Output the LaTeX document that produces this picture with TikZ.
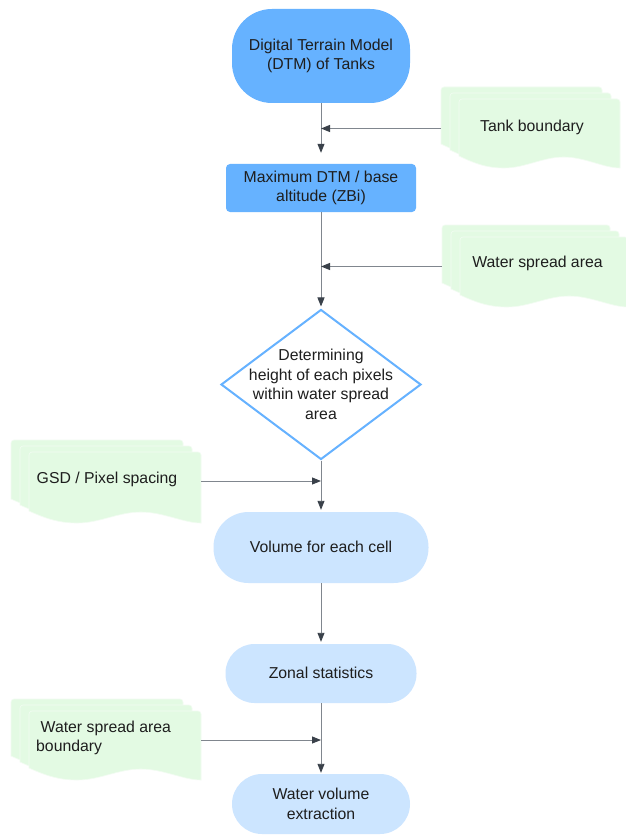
\documentclass[tikz,border=0pt]{standalone}
\usepackage{fontspec}
\setmainfont{Liberation Sans}
\usetikzlibrary{shapes.geometric,arrows.meta}
\definecolor{dblue}{HTML}{66B2FF}
\definecolor{lblue}{HTML}{CCE5FF}
\definecolor{mint}{HTML}{E3FAE3}
\definecolor{mintedge}{HTML}{F2FCF2}
\definecolor{linec}{HTML}{80868E}
\definecolor{tipc}{HTML}{3A414A}
\definecolor{txt}{HTML}{1E1E1E}
\newcommand\docsheet[4]{%
  \filldraw[fill=mint, draw=mintedge, line width=0.6pt]
    ({#1},{#2+#4-12}) [rounded corners=3pt] -- ({#1},{#2}) -- ({#1+#3},{#2})
    [sharp corners] -- ({#1+#3},{#2+#4})
    .. controls ({#1+0.9*#3},{#2+#4}) and ({#1+0.78*#3},{#2+#4-11}) .. ({#1+0.65*#3},{#2+#4-11})
    .. controls ({#1+0.52*#3},{#2+#4-11}) and ({#1+0.41*#3},{#2+#4}) .. ({#1+0.28*#3},{#2+#4})
    .. controls ({#1+0.16*#3},{#2+#4}) and ({#1+0.08*#3},{#2+#4-6}) .. ({#1},{#2+#4-12}) -- cycle;}
\newcommand\docstack[4]{%
  \docsheet{#1-18}{#2-12}{#3}{#4}%
  \docsheet{#1-9}{#2-6}{#3}{#4}%
  \docsheet{#1}{#2}{#3}{#4}}
\tikzset{
  lbl/.style={font=\fontsize{15.8pt}{19.5pt}\selectfont, text=txt, align=center, inner sep=0pt},
  term/.style={lbl, rectangle, draw=none},
  flow/.style={draw=linec, line width=0.9pt, -{Triangle[length=9pt,width=7pt,color=tipc]}},
}
\begin{document}
\begin{tikzpicture}[x=1pt,y=-1pt]
\useasboundingbox[fill=white] (0,0) rectangle (625,837);

% input stacks
\docstack{459}{99}{161}{69}
\docstack{460}{237}{168}{70}
\docstack{29}{452}{172}{71}
\docstack{29}{711}{172}{69}

\node[lbl] (tb) at (532,127) {Tank boundary};
\node[lbl] (wsa) at (537.5,263.5) {Water spread area};
\node[lbl] (gsd) at (107,479.5) {GSD / Pixel spacing};
\node[lbl, align=left, anchor=west] (wsab) at (36,738) {\hspace{4.5pt}Water spread area\\boundary};

\coordinate (tbin) at (441,128.5);
\coordinate (wsain) at (442,266.5);
\coordinate (gsdout) at (201,481);
\coordinate (wsabout) at (201,740);

% main column
\node[term, fill=dblue, minimum width=178pt, minimum height=94pt, rounded corners=40pt] (dtm) at (321,56) {Digital Terrain Model\\(DTM) of Tanks};
\node[term, fill=dblue, minimum width=190pt, minimum height=48pt, rounded corners=4pt] (max) at (321,188) {Maximum DTM / base\\altitude (ZBi)};
\node[diamond, draw=dblue, line width=2pt, fill=white, minimum width=200pt, minimum height=150pt, inner sep=0pt] (dia) at (321,384.5) {};
\node[lbl] (diat) at (dia.center) {Determining\\height of each pixels\\within water spread\\area};
\node[term, fill=lblue, minimum width=215pt, minimum height=71pt, rounded corners=35pt] (vol) at (321,547.5) {\raisebox{1.5pt}{Volume for each cell}};
\node[term, fill=lblue, minimum width=191pt, minimum height=59pt, rounded corners=29pt] (zon) at (321,673.5) {\raisebox{1.5pt}{Zonal statistics}};
\node[term, fill=lblue, minimum width=178pt, minimum height=60pt, rounded corners=30pt] (wve) at (321,804) {Water volume\\extraction};

\coordinate (j1) at (321,128.5);
\coordinate (j2) at (321,266.5);
\coordinate (j3) at (321,481);
\coordinate (j4) at (321,740);

% connectors
\draw[flow, shorten >=11pt] (dtm) -- (max);
\draw[flow, shorten >=2pt] (max) -- (dia);
\draw[flow, shorten >=2pt] (dia) -- (vol);
\draw[flow, shorten >=2pt] (vol) -- (zon);
\draw[flow, shorten >=1pt] (zon) -- (wve);
\draw[flow] (tbin) -- (j1);
\draw[flow] (wsain) -- (j2);
\draw[flow] (gsdout) -- (j3);
\draw[flow] (wsabout) -- (j4);
\end{tikzpicture}
\end{document}
